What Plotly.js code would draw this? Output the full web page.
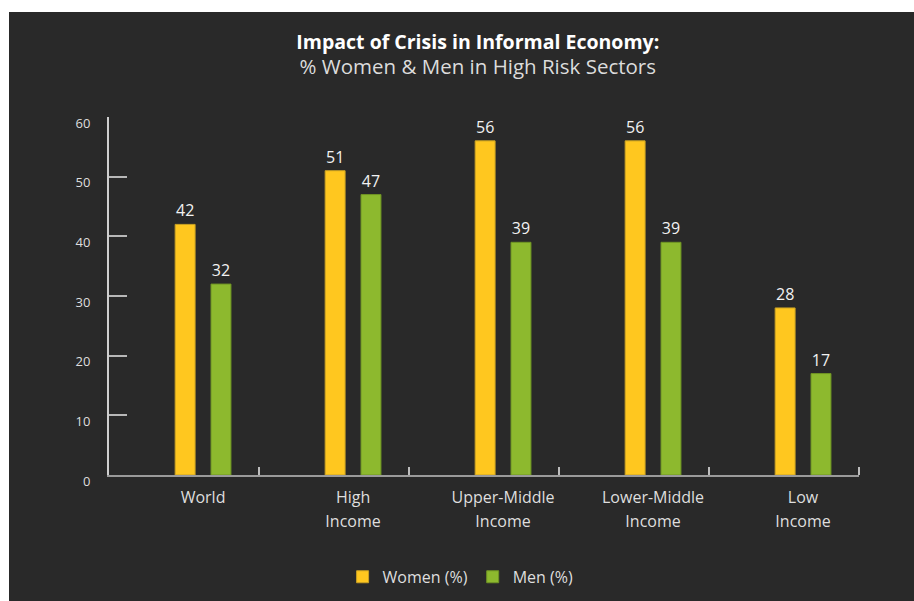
<!DOCTYPE html>
<html>
<head>
<meta charset="utf-8">
<script src="https://cdn.plot.ly/plotly-3.0.1.min.js"></script>
<style>
  html, body { margin: 0; padding: 0; background: #ffffff; }
  #chart { position: absolute; left: 9px; top: 12px; width: 905px; height: 589px; }
</style>
</head>
<body>
<div id="chart"></div>
<script>
const categories = ['World', 'High Income', 'Upper-Middle Income', 'Lower-Middle Income', 'Low Income'];
const labelLine1 = ['World', 'High', 'Upper-Middle', 'Lower-Middle', 'Low'];
const labelLine2 = ['', 'Income', 'Income', 'Income', 'Income'];
const women = [42, 51, 56, 56, 28];
const men = [32, 47, 39, 39, 17];
const yTickVals = [0, 10, 20, 30, 40, 50, 60];
const seriesNames = ['Women (%)', 'Men (%)'];

const xPos = categories.map((c, i) => i);
const boundaryTicks = categories.map((c, i) => i + 0.373);

const FONT = '"Open Sans", Lato, sans-serif';
const LABEL = '#dedede';
const BAR_W = 0.133;

const traces = [
  {
    type: 'bar', name: seriesNames[0], x: xPos, y: women, xaxis: 'x', yaxis: 'y',
    width: BAR_W, offset: -0.186,
    marker: { color: '#FFC71F', line: { color: '#C9A124', width: 1 } },
    texttemplate: '%{y}', textposition: 'outside',
    textfont: { family: FONT, size: 16, color: '#f2f2f2' },
    cliponaxis: false
  },
  {
    type: 'bar', name: seriesNames[1], x: xPos, y: men, xaxis: 'x2', yaxis: 'y',
    width: BAR_W, offset: 0.053,
    marker: { color: '#8DB92E', line: { color: '#6F9424', width: 1 } },
    texttemplate: '%{y}', textposition: 'outside',
    textfont: { family: FONT, size: 16, color: '#f2f2f2' },
    cliponaxis: false
  }
];

const layout = {
  width: 905, height: 589,
  paper_bgcolor: '#292929', plot_bgcolor: '#292929',
  font: { family: FONT, color: LABEL },
  margin: { l: 100, r: 55, t: 105, b: 126, pad: 0 },
  barmode: 'overlay',
  showlegend: true,
  title: {
    text: '<b>Impact of Crisis in Informal Economy:</b><br><span style="color:#dcdcdc;font-size:20.5px">% Women &amp; Men in High Risk Sectors</span>',
    font: { family: FONT, size: 19.5, color: '#ffffff' },
    x: 0.518, xanchor: 'center', xref: 'container',
    y: 0.937, yanchor: 'top', yref: 'container'
  },
  legend: {
    orientation: 'h', xref: 'container', yref: 'container',
    x: 0.499, xanchor: 'center', y: 0.041, yanchor: 'middle',
    font: { family: FONT, size: 16, color: LABEL },
    bgcolor: 'rgba(0,0,0,0)', traceorder: 'normal'
  },
  xaxis: {
    type: 'linear', range: [-0.627, 4.373], fixedrange: true,
    tickmode: 'array', tickvals: xPos, ticktext: labelLine1,
    ticks: '', ticklabelstandoff: 7,
    tickfont: { family: FONT, size: 16, color: LABEL },
    showline: true, linecolor: '#9a9a9a', linewidth: 2,
    showgrid: false, zeroline: false,
    minor: { tickmode: 'array', tickvals: boundaryTicks, ticks: 'inside', ticklen: 8, tickwidth: 1.5, tickcolor: '#bdbdbd', showgrid: false }
  },
  xaxis2: {
    type: 'linear', overlaying: 'x', matches: 'x', anchor: 'y', side: 'bottom',
    range: [-0.627, 4.373], fixedrange: true,
    tickmode: 'array', tickvals: xPos, ticktext: labelLine2,
    ticks: '', ticklabelstandoff: 35,
    tickfont: { family: FONT, size: 16, color: LABEL },
    showline: false, showgrid: false, zeroline: false
  },
  yaxis: {
    range: [0, 60], fixedrange: true,
    tickmode: 'array', tickvals: yTickVals,
    ticks: 'inside', ticklen: 18, tickwidth: 2, tickcolor: '#b8b8b8',
    ticklabelstandoff: 14, ticklabelshift: 6,
    tickfont: { family: FONT, size: 13, color: LABEL },
    showline: true, linecolor: '#cfcfcf', linewidth: 2,
    showgrid: false, zeroline: false
  },
  hovermode: false
};

Plotly.newPlot('chart', traces, layout, { displayModeBar: false, staticPlot: true });
</script>
</body>
</html>
